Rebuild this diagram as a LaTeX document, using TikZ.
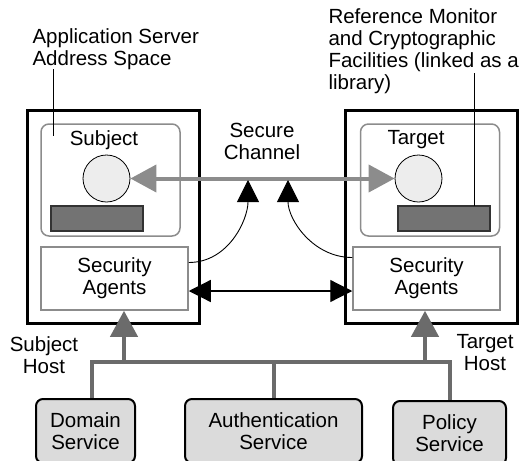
\documentclass[tikz,border=0pt]{standalone}
\usepackage{fontspec}
\setmainfont{Liberation Sans}
\usetikzlibrary{arrows.meta, positioning}
\definecolor{chgray}{gray}{0.55}
\definecolor{treegray}{gray}{0.42}
\definecolor{objfill}{gray}{0.93}
\definecolor{libfill}{gray}{0.45}
\definecolor{servfill}{gray}{0.86}

\begin{document}
\begin{tikzpicture}[x=1pt, y=-1pt,
    font=\fontsize{20.5}{22}\selectfont,
    host/.style={draw, line width=3pt, minimum width=172pt, minimum height=213pt, inner sep=0pt},
    space/.style={draw=chgray, line width=1.5pt, rounded corners=8pt, minimum width=139pt, minimum height=112pt, inner sep=0pt},
    obj/.style={circle, draw, line width=0.8pt, fill=objfill, minimum size=47pt, inner sep=0pt},
    lib/.style={draw=black!80, line width=1.2pt, fill=libfill, minimum width=92pt, minimum height=25pt, inner sep=0pt},
    agents/.style={draw=chgray, line width=1.5pt, fill=white, minimum width=147pt, minimum height=63pt, inner sep=0pt, align=center},
    service/.style={draw, line width=2pt, rounded corners=7pt, fill=servfill, minimum height=64pt, inner sep=0pt, anchor=north, align=center},
    tree/.style={draw=treegray, line width=4pt},
    bigtip/.tip={Triangle[length=22pt, width=22pt]},
    graytip/.tip={Triangle[length=26pt, width=27pt]}]
  \useasboundingbox (0,0) rectangle (523,461);

  % Hosts with their address spaces
  \node[host] (lhost) at (113,217) {};
  \node[host] (rhost) at (431,217) {};
  \node[space] (lspace) at (110.5,180) {};
  \node[space] (rspace) at (430,180) {};
  \node at (104,140) {Subject};
  \node at (416,140) {Target};
  \node[obj] (subj) at (106.5,178.5) {};
  \node[obj] (targ) at (418.5,178.5) {};
  \node[lib] (llib) at (97,218.5) {};
  \node[lib] (rlib) at (444,218.5) {};
  \node[agents] (lagent) at (114.5,278.5) {Security\\Agents};
  \node[agents] (ragent) at (426.5,278.5) {Security\\Agents};

  % Labels
  \node[anchor=west, align=left] (app) at (29,49) {Application Server\\Address Space};
  \node[anchor=west, align=left] (ref) at (325,51) {Reference Monitor\\and Cryptographic\\Facilities (linked as a\\library)};
  \node[align=center] (chan) at (262,141) {Secure\\Channel};
  \node[align=center] (shost) at (44,355) {Subject\\Host};
  \node[align=center] (thost) at (485,353) {Target\\Host};
  \coordinate (apptop) at (53,69);
  \coordinate (append) at (53,136);
  \coordinate (reftop) at (474,73);
  \coordinate (refend) at (474,206);
  \draw[line width=1pt] (apptop) -- (append);
  \draw[line width=1pt] (reftop) -- (refend);

  % Secure channel between subject and target
  \draw[chgray, line width=4pt, graytip-graytip] (subj.east) -- (targ.west);
  \coordinate (chl) at (248,180);
  \coordinate (chr) at (288,180);
  \draw[line width=0.9pt, -bigtip] ([yshift=16pt]lagent.east) to[out=0, in=-90] (chl);
  \draw[line width=0.9pt, -bigtip] ([yshift=21pt]ragent.west) to[out=180, in=-90] (chr);
  \draw[line width=1.2pt, bigtip-bigtip] ([yshift=-12.5pt]lagent.east) -- ([yshift=-12.5pt]ragent.west);

  % Services
  \node[service, minimum width=99pt] (dom) at (85.5,398) {Domain\\Service};
  \node[service, minimum width=177pt] (auth) at (273.5,398) {Authentication\\Service};
  \node[service, minimum width=113pt] (pol) at (449.5,400) {Policy\\Service};
  \coordinate (jl) at (124,362);
  \coordinate (jr) at (425,362);
  \draw[tree] ([xshift=6.5pt]dom.north) |- (jl) -- (jr) -| (pol.north);
  \draw[tree] (auth.north) -- (auth.north |- jl);
  \draw[tree, -graytip] (jl) -- (jl |- lagent.south);
  \draw[tree, -graytip] (jr) -- (jr |- ragent.south);
\end{tikzpicture}
\end{document}
